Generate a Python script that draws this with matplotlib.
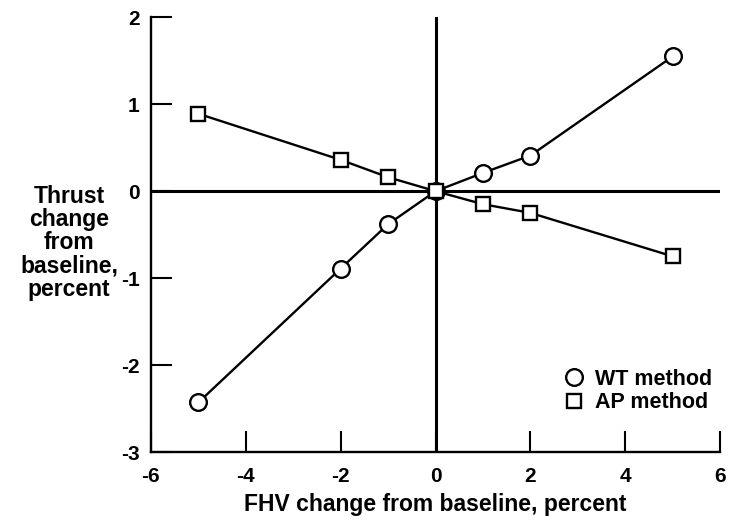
import matplotlib.pyplot as plt
from matplotlib.lines import Line2D

plt.rcParams['font.family'] = 'Liberation Sans'
plt.rcParams['font.weight'] = 'bold'

# FHV change from baseline, percent
fhv = [-5, -2, -1, 0, 1, 2, 5]
# thrust change from baseline, percent
wt_thrust = [-2.43, -0.89, -0.38, 0.0, 0.21, 0.41, 1.55]
ap_thrust = [0.89, 0.36, 0.16, 0.0, -0.15, -0.25, -0.75]

xticks = [-6, -4, -2, 0, 2, 4, 6]
yticks = [-3, -2, -1, 0, 1, 2]

fig = plt.figure(figsize=(7.29, 5.22), dpi=100)
ax = fig.add_axes([0.207, 0.134, 0.781, 0.833])

#Zero lines#
ax.axhline(0, color='k', lw=2.2, zorder=1)
ax.axvline(0, color='k', lw=2.2, zorder=1)

ax.plot(fhv, wt_thrust, color='k', lw=1.7, marker='o', ms=12,
        mfc='white', mec='k', mew=1.7, zorder=3)
ax.plot(fhv, ap_thrust, color='k', lw=1.7, marker='s', ms=10.5,
        mfc='white', mec='k', mew=1.7, zorder=3)

ax.set_xlim(-6, 6)
ax.set_ylim(-3, 2)
ax.set_xticks(xticks)
ax.set_yticks(yticks)
ax.set_xticklabels([str(v) for v in xticks], fontsize=15, fontweight='bold')
ax.set_yticklabels([str(v) for v in yticks], fontsize=15, fontweight='bold')
ax.tick_params(direction='in', length=15, width=1.5)
ax.tick_params(axis='x', pad=11)
ax.tick_params(axis='y', pad=8)

for s in ['top', 'right']:
    ax.spines[s].set_visible(False)
for s in ['left', 'bottom']:
    ax.spines[s].set_linewidth(1.7)

ax.set_xlabel('FHV change from baseline, percent', fontsize=16.5, fontweight='bold', labelpad=5)
fig.text(0.095, 0.535, 'Thrust\nchange\nfrom\nbaseline,\npercent', ha='center', va='center',
         fontsize=16.5, fontweight='bold', linespacing=1.02)

handles = [Line2D([], [], ls='none', marker='o', ms=12, mfc='white', mec='k', mew=1.7),
           Line2D([], [], ls='none', marker='s', ms=10, mfc='white', mec='k', mew=1.7)]
leg = ax.legend(handles, ['WT method', 'AP method'], loc='lower right', frameon=False,
                bbox_to_anchor=(1.02, 0.045), prop={'size': 15.5, 'weight': 'bold'},
                handletextpad=0.4, labelspacing=0.1, handlelength=1.2)

fig.savefig('out.png', dpi=100)
